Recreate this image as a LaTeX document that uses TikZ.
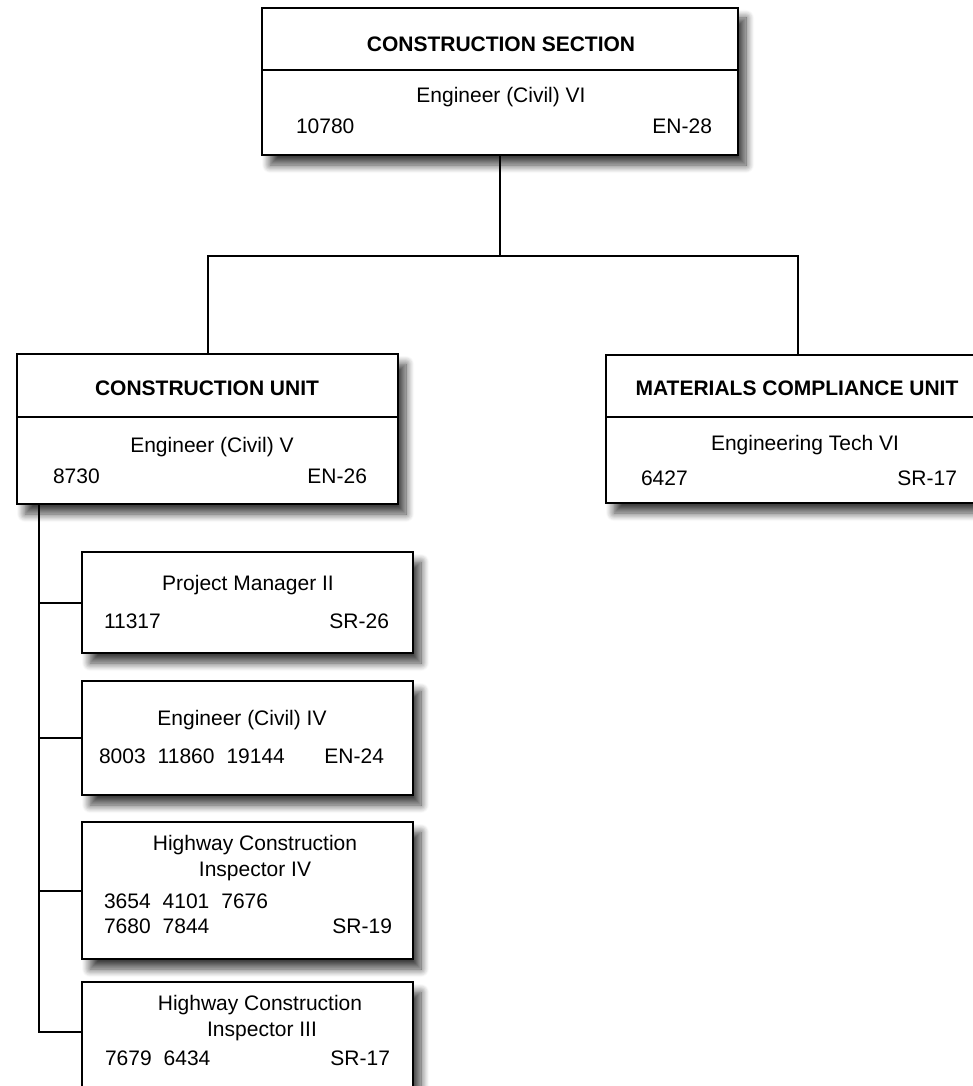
\documentclass[tikz,border=0pt]{standalone}
\usepackage{fontspec}
\setmainfont{Liberation Sans}
\usetikzlibrary{positioning,shadows.blur}

\begin{document}
\begin{tikzpicture}[x=1pt, y=-1pt, line width=2pt,
        orgbox/.style={draw, fill=white, rectangle, inner sep=0pt,
            blur shadow={shadow xshift=8pt, shadow yshift=-10pt, shadow blur radius=8pt, shadow blur steps=10, shadow opacity=75}},
        txt/.style={inner sep=0pt, font=\fontsize{21}{25}\selectfont},
        head/.style={inner sep=0pt, font=\fontsize{21}{25}\selectfont\bfseries},
        conn/.style={line width=2pt}]
        \useasboundingbox (0,0) rectangle (973,1086);
        \clip (0,0) rectangle (973,1086);

        \node (cs) [orgbox, minimum width=476pt, minimum height=147pt] at (500, 81.5) {};
        \node (cu) [orgbox, minimum width=381pt, minimum height=150pt] at (207.5, 429) {};
        \node (mcu) [orgbox, minimum width=384pt, minimum height=148pt] at (798, 429) {};
        \node (pm) [orgbox, minimum width=331pt, minimum height=101pt] at (247.5, 602.5) {};
        \node (ec) [orgbox, minimum width=331pt, minimum height=114pt] at (247.5, 738) {};
        \node (hci4) [orgbox, minimum width=331pt, minimum height=137pt] at (247.5, 890.5) {};
        \node (hci3) [orgbox, minimum width=331pt, minimum height=137pt] at (247.5, 1050.5) {};

        \draw (cs.west |- 0,70) -- (cs.east |- 0,70);
        \draw (cu.west |- 0,417) -- (cu.east |- 0,417);
        \draw (mcu.west |- 0,417) -- (mcu.east |- 0,417);

        \coordinate (split) at (500, 256);
        \coordinate (spine) at ([xshift=23pt]cu.south west);
        \draw[conn] (cs.south) -- (split) -| (cu.north);
        \draw[conn] (split) -| (mcu.north);
        \draw[conn] (spine) |- (pm.west);
        \draw[conn] (spine) |- (ec.west);
        \draw[conn] (spine) |- (hci4.west);
        \draw[conn] (spine) |- ([yshift=18.5pt]hci3.west);

        \node (cstitle) [head, anchor=base] at (501, 52) {CONSTRUCTION SECTION};
        \node (cspos) [txt, anchor=base] at (501, 103) {Engineer (Civil) VI};
        \node (csnum) [txt, anchor=base west] at (295, 134) {10780};
        \node (csgrade) [txt, anchor=base east] at (713, 134) {EN-28};

        \node (cutitle) [head, anchor=base] at (207, 395) {CONSTRUCTION UNIT};
        \node (cupos) [txt, anchor=base] at (212, 452) {Engineer (Civil) V};
        \node (cunum) [txt, anchor=base west] at (52, 483) {8730};
        \node (cugrade) [txt, anchor=base east] at (368, 483) {EN-26};

        \node (mcutitle) [head, anchor=base] at (797, 395) {MATERIALS COMPLIANCE UNIT};
        \node (mcupos) [txt, anchor=base] at (805, 450) {Engineering Tech VI};
        \node (mcunum) [txt, anchor=base west] at (640, 485) {6427};
        \node (mcugrade) [txt, anchor=base east] at (958, 485) {SR-17};

        \node (pmpos) [txt, anchor=base] at (248, 590) {Project Manager II};
        \node (pmnum) [txt, anchor=base west] at (103, 628) {11317};
        \node (pmgrade) [txt, anchor=base east] at (390, 628) {SR-26};

        \node (ecpos) [txt, anchor=base] at (242, 725) {Engineer (Civil) IV};
        \node (ecnum) [txt, anchor=base west] at (98, 763) {8003\hspace{12pt}11860\hspace{12pt}19144};
        \node (ecgrade) [txt, anchor=base east] at (385, 763) {EN-24};

        \node (hci4pos) [txt, anchor=base] at (255, 850) {Highway Construction};
        \node (hci4posb) [txt, anchor=base] at (255, 876) {Inspector IV};
        \node (hci4num) [txt, anchor=base west] at (103, 908) {3654\hspace{12pt}4101\hspace{12pt}7676};
        \node (hci4numb) [txt, anchor=base west] at (103, 933) {7680\hspace{12pt}7844};
        \node (hci4grade) [txt, anchor=base east] at (393, 933) {SR-19};

        \node (hci3pos) [txt, anchor=base] at (260, 1010) {Highway Construction};
        \node (hci3posb) [txt, anchor=base] at (262, 1036) {Inspector III};
        \node (hci3num) [txt, anchor=base west] at (104, 1065) {7679\hspace{12pt}6434};
        \node (hci3grade) [txt, anchor=base east] at (391, 1065) {SR-17};
    \end{tikzpicture}
\end{document}
